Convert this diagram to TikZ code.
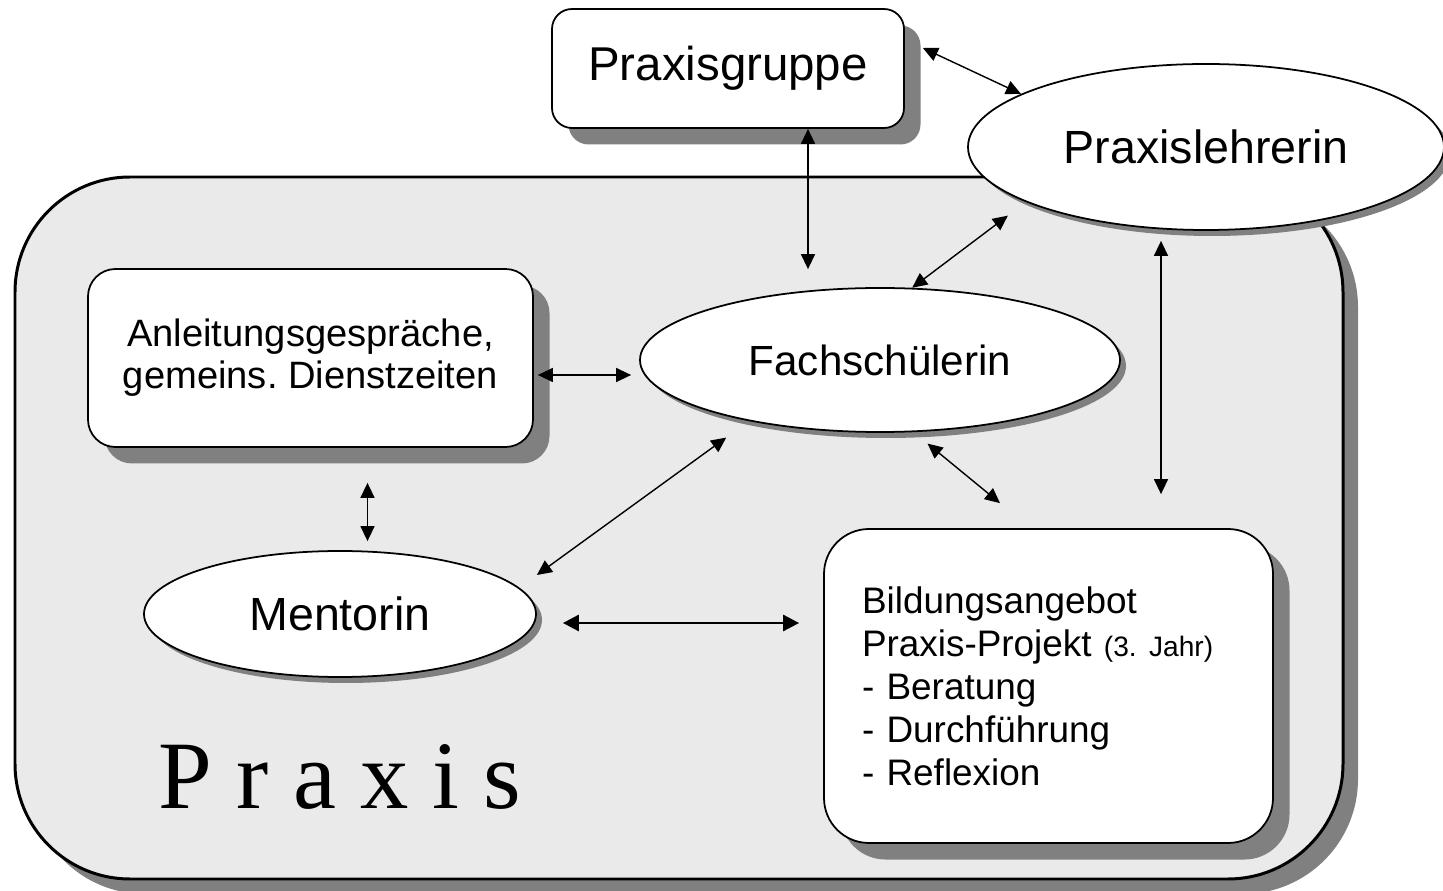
\documentclass[tikz,border=0pt]{standalone}
\usepackage{fontspec}
\setmainfont{Liberation Sans}
\newfontfamily\praxisfont{Liberation Serif}
\usetikzlibrary{shapes.geometric,shadows,arrows.meta}
\frenchspacing

\begin{document}
\begin{tikzpicture}[
    kasten/.style={shape=rectangle,draw,line width=1pt,fill=white,drop shadow={shadow xshift=0.33cm,shadow yshift=-0.33cm,fill=schatten,opacity=1}},
    oval/.style={shape=ellipse,draw,line width=1pt,fill=white,inner sep=0pt,drop shadow={shadow xshift=0.12cm,shadow yshift=-0.12cm,fill=schatten,opacity=1}},
    pfeil/.style={<->,>={Triangle[length=3mm,width=2.8mm]},line width=0.8pt},
    dickpfeil/.style={<->,>={Triangle[length=3.2mm,width=3.2mm]},line width=1.6pt}
]
    \definecolor{schatten}{RGB}{128,128,128}
    \definecolor{praxis_bg}{RGB}{234,234,234}
    \useasboundingbox (0,0) rectangle (28.86,-17.82);
    % Praxis-Rahmen
    \node[shape=rectangle,draw,line width=1.7pt,fill=praxis_bg,rounded corners=2.3cm,minimum width=26.56cm,minimum height=14.04cm,drop shadow={shadow xshift=0.3cm,shadow yshift=-0.3cm,fill=schatten,opacity=1}] (rahmen) at (13.58,-10.56) {};
    \node[font=\praxisfont\fontsize{55}{60}\selectfont,anchor=base] (praxis) at (6.8,-16.16) {P r a x i s};
    % Kaesten und Ovale
    \node[kasten,rounded corners=0.4cm,minimum width=7.04cm,minimum height=2.38cm,font=\fontsize{27}{32}\selectfont] (gruppe) at (14.56,-1.37) {Praxisgruppe};
    \node[oval,minimum width=9.52cm,minimum height=3.32cm,font=\fontsize{26.5}{30}\selectfont] (lehrerin) at (24.12,-2.94) {Praxislehrerin};
    \node[kasten,rounded corners=0.55cm,minimum width=8.9cm,minimum height=3.56cm,align=center,font=\fontsize{21.7}{23.9}\selectfont] (anleitung) at (6.21,-7.16) {Anleitungsgespräche,\\gemeins. Dienstzeiten};
    \node[oval,minimum width=9.6cm,minimum height=2.88cm,font=\fontsize{24}{28}\selectfont] (fach) at (17.6,-7.2) {Fachschülerin};
    \node[oval,minimum width=7.84cm,minimum height=2.52cm,font=\fontsize{26.5}{30}\selectfont] (mentorin) at (6.8,-12.28) {Mentorin};
    \node[kasten,rounded corners=0.9cm,minimum width=8.98cm,minimum height=6.28cm,text width=7.46cm,inner xsep=0.76cm,align=left,font=\fontsize{21}{24.5}\selectfont] (bildung) at (20.97,-13.72) {Bildungsangebot\\Praxis-Projekt {\fontsize{16}{18}\selectfont (3. Jahr)}\\- Beratung\\- Durchführung\\- Reflexion};
    % Pfeile
    \draw[pfeil] ([shift={(0.36,0.41)}]gruppe.east) -- (lehrerin.164);
    \draw[pfeil,shorten >=0.36cm] ([xshift=1.6cm]gruppe.south) -- ([xshift=1.6cm]gruppe.south |- fach.north);
    \draw[pfeil,shorten >=0.45cm] (fach.66) -- (lehrerin.197);
    \draw[pfeil,shorten <=0.2cm,shorten >=0.68cm] ([xshift=-0.9cm]lehrerin.south) -- ([xshift=-0.9cm]lehrerin.south |- bildung.north);
    \draw[pfeil,shorten <=0.08cm,shorten >=0.16cm] ([yshift=-0.34cm]anleitung.east) -- ([yshift=-0.34cm]anleitung.east -| fach.west);
    \draw[pfeil,shorten <=0.7cm,shorten >=0.18cm] ([xshift=1.14cm]anleitung.south) -- ([xshift=1.14cm]anleitung.south |- mentorin.north);
    \draw[pfeil,shorten >=0.56cm] ([yshift=0.78cm]mentorin.east) -- (fach.205);
    \draw[pfeil,shorten <=0.36cm] (fach.295) -- ([shift={(-0.97,0.5)}]bildung.north);
    \draw[dickpfeil,shorten <=0.52cm,shorten >=0.48cm] ([yshift=-0.18cm]mentorin.east) -- ([yshift=-0.18cm]mentorin.east -| bildung.west);
\end{tikzpicture}
\end{document}
